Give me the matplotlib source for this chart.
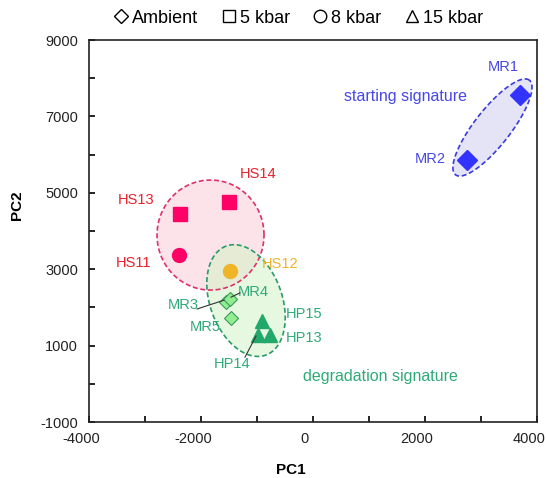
import matplotlib.pyplot as plt
import matplotlib.transforms as mtransforms
import numpy as np
from matplotlib.lines import Line2D

plt.rcParams['font.family'] = ['Liberation Sans', 'DejaVu Sans']
plt.rcParams['axes.unicode_minus'] = False

# sample scores (PC1, PC2)
mr_names = ['MR1', 'MR2']
mr_x = [3700, 2750]
mr_y = [7550, 5850]

amb_names = ['MR3', 'MR4', 'MR5']
amb_x = [-1560, -1480, -1460]
amb_y = [2150, 2230, 1720]

hs_sq_names = ['HS13', 'HS14']
hs_sq_x = [-2370, -1500]
hs_sq_y = [4450, 4750]

hs11_x, hs11_y = [-2400], [3380]
hs12_x, hs12_y = [-1480], [2950]

hp_names = ['HP15', 'HP14', 'HP13']
hp_x = [-910, -980, -770]
hp_y = [1650, 1280, 1280]

blue = '#3333FF'
blue_txt = '#4747E6'
pink = '#FF0066'
red_txt = '#E8202A'
orange = '#F0B428'
green = '#22A86A'
green_txt = '#2EAA78'

fig = plt.figure(figsize=(5.46, 4.78), dpi=100)
ax = fig.add_axes([0.163, 0.117, 0.8205, 0.7993])
ax.set_xlim(-4000, 4000)
ax.set_ylim(-1000, 9000)

# data units per pixel, used to draw ellipses that look right on screen
sx = 8000 / 448.0
sy = 10000 / 382.0

def blob(cx, cy, a, b, ang, fc, ec, alpha=1.0):
    t = np.linspace(0, 2 * np.pi, 200)
    r = np.deg2rad(ang)
    u = a * np.cos(t) * np.cos(r) - b * np.sin(t) * np.sin(r)
    v = a * np.cos(t) * np.sin(r) + b * np.sin(t) * np.cos(r)
    ax.fill(cx + u * sx, cy + v * sy, facecolor=fc, edgecolor='none',
            alpha=alpha, zorder=1)
    ax.plot(cx + u * sx, cy + v * sy, ls=(0, (3, 1.6)), color=ec, lw=1.2, zorder=2)

blob(3205, 6710, 60, 18, 52, '#E4E4F6', '#3A3AE0')
blob(-1830, 3895, 53.5, 55, 0, '#FCE3EA', '#E0306A')
blob(-1196, 2180, 58, 36, 110, '#CFF3C2', '#2A9A6A', alpha=0.5)

ax.plot(mr_x, mr_y, 'D', color=blue, ms=10, zorder=5)
ax.plot(hs_sq_x, hs_sq_y, 's', color=pink, ms=9.5, zorder=5)
ax.plot(hs11_x, hs11_y, 'o', color=pink, ms=10, zorder=5)
ax.plot(hs12_x, hs12_y, 'o', color=orange, ms=10, zorder=5)
ax.plot(amb_x, amb_y, 'D', mfc='#90EE90', mec='#3A9A5A', ms=7, mew=0.8, zorder=5)
ax.plot(hp_x, hp_y, '^', color=green, ms=9.5, zorder=5)

fs = 10.5
fs2 = 11.5
ax.text(3390, 8290, 'MR1', color=blue_txt, fontsize=fs, ha='center', va='center')
ax.text(2090, 5885, 'MR2', color=blue_txt, fontsize=fs, ha='center', va='center')
ax.text(1660, 7530, 'starting signature', color=blue_txt, fontsize=fs2, ha='center', va='center')
ax.text(-980, 5490, 'HS14', color=red_txt, fontsize=fs, ha='center', va='center')
ax.text(-3160, 4810, 'HS13', color=red_txt, fontsize=fs, ha='center', va='center')
ax.text(-3200, 3160, 'HS11', color=red_txt, fontsize=fs, ha='center', va='center')
ax.text(-590, 3135, 'HS12', color=orange, fontsize=fs, ha='center', va='center')
ax.text(-2320, 2060, 'MR3', color=green_txt, fontsize=fs, ha='center', va='center')
ax.text(-1070, 2400, 'MR4', color=green_txt, fontsize=fs, ha='center', va='center')
ax.text(-1930, 1490, 'MR5', color=green_txt, fontsize=fs, ha='center', va='center')
ax.text(-160, 1830, 'HP15', color=green_txt, fontsize=fs, ha='center', va='center')
ax.text(-160, 1200, 'HP13', color=green_txt, fontsize=fs, ha='center', va='center')
ax.text(-1445, 520, 'HP14', color=green_txt, fontsize=fs, ha='center', va='center')
ax.text(1200, 200, 'degradation signature', color=green_txt, fontsize=fs2, ha='center', va='center')

# leader lines
ax.plot([-2070, -1590], [1960, 2190], color='#333333', lw=0.8, zorder=6)
ax.plot([-1464, -1304], [2270, 2380], color='#333333', lw=0.8, zorder=6)
ax.plot([-1214, -1018], [700, 1250], color='#333333', lw=0.8, zorder=6)

ax.set_xticks([-4000, -2000, 0, 2000, 4000])
ax.set_xticks(np.arange(-4000, 4001, 1000), minor=True)
ax.set_yticks([-1000, 1000, 3000, 5000, 7000, 9000])
ax.set_yticks(np.arange(-1000, 9001, 1000), minor=True)
ax.tick_params(which='both', direction='in', labelsize=10.5, length=4, width=1.2,
               labelcolor='#222222')
ax.tick_params(axis='x', pad=7)
ax.tick_params(axis='y', pad=8)
for sp in ax.spines.values():
    sp.set_linewidth(1.2)
    sp.set_color('#222222')

# x tick labels sit a little left of their ticks in the original
shift = mtransforms.ScaledTranslation(-8 / 100, 0, fig.dpi_scale_trans)
for lab in ax.get_xticklabels():
    lab.set_transform(lab.get_transform() + shift)

ax.set_xlabel('PC1', fontsize=11, fontweight='bold')
ax.xaxis.set_label_coords(0.451, -0.108)
ax.set_ylabel('PC2', fontsize=11, fontweight='bold')
ax.yaxis.set_label_coords(-0.145, 0.568)

handles = [
    Line2D([], [], ls='none', marker='D', mfc='white', mec='black', ms=7, mew=1),
    Line2D([], [], ls='none', marker='s', mfc='white', mec='black', ms=9, mew=1),
    Line2D([], [], ls='none', marker='o', mfc='white', mec='black', ms=9, mew=1),
    Line2D([], [], ls='none', marker='^', mfc='white', mec='black', ms=9, mew=1),
]
fig.legend(handles, ['Ambient', '5 kbar', '8 kbar', '15 kbar'], ncol=4,
           loc='center', bbox_to_anchor=(0.545, 0.962), frameon=False,
           fontsize=13, handletextpad=0.1, columnspacing=1.2, handlelength=1.0)

fig.savefig('out.png', dpi=100)
